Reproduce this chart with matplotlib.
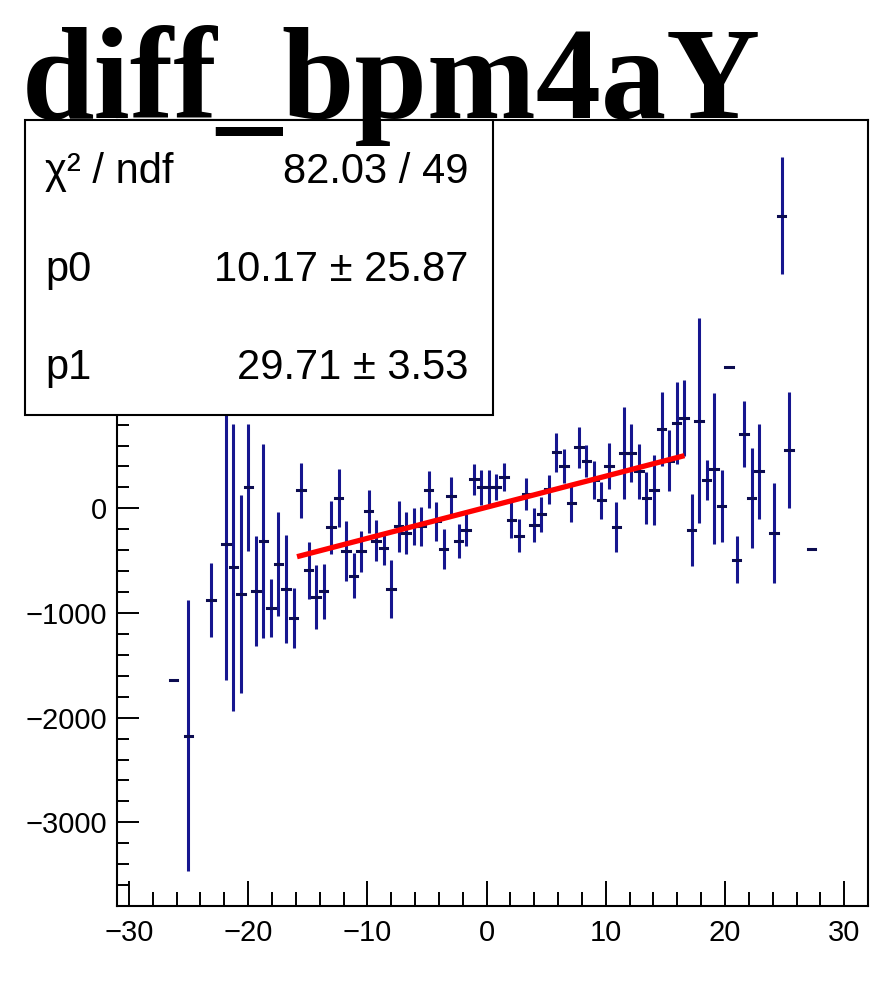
import numpy as np
import matplotlib
matplotlib.use("Agg")
import matplotlib.pyplot as plt
from matplotlib.patches import Rectangle

# profile bins (bin centres), mean values and errors
x_vals = [-26.275, -25.015, -23.125, -21.865, -21.235, -20.605, -19.975, -19.345,
          -18.715, -18.085, -17.455, -16.825, -16.195, -15.565, -14.935, -14.305,
          -13.675, -13.045, -12.415, -11.785, -11.155, -10.525, -9.895, -9.265,
          -8.635, -8.005, -7.375, -6.745, -6.115, -5.485, -4.855, -4.225,
          -3.595, -2.965, -2.335, -1.705, -1.075, -0.445, 0.185, 0.815,
          1.445, 2.075, 2.705, 3.335, 3.965, 4.595, 5.225, 5.855,
          6.485, 7.115, 7.745, 8.375, 9.005, 9.635, 10.265, 10.895,
          11.525, 12.155, 12.785, 13.415, 14.045, 14.675, 15.305, 15.935,
          16.565, 17.195, 17.825, 18.455, 19.085, 19.715, 20.345, 20.975,
          21.605, 22.235, 22.865, 24.125, 24.755, 25.385, 27.275]
y_vals = [-1637, -2172, -873, -338, -564, -819, 200, -793,
          -309, -952, -532, -768, -1048, 171, -593, -847,
          -793, -182, 98, -411, -643, -411, -30, -309,
          -383, -770, -173, -236, -173, -173, 178, -125,
          -389, 122, -312, -208, 276, 203, 203, 203,
          299, -109, -260, 135, -157, -58, 180, 535,
          405, 47, 583, 450, 270, 75, 400, -182,
          528, 528, 353, 98, 171, 760, 456, 815,
          862, -208, 837, 273, 380, 20, 1346, -491,
          709, 98, 353, -236, 2797, 553, -389]
y_errs = [0, 1295, 353, 1299, 1370, 950, 608, 525,
          926, 279, 494, 517, 290, 260, 271, 310,
          263, 255, 274, 286, 215, 199, 207, 199,
          155, 275, 242, 199, 178, 186, 177, 186,
          191, 178, 159, 151, 146, 167, 159, 126,
          138, 175, 162, 151, 162, 164, 135, 184,
          159, 181, 194, 151, 181, 181, 220, 240,
          442, 280, 265, 252, 335, 355, 290, 390,
          366, 342, 979, 191, 720, 345, 0, 226,
          313, 481, 454, 477, 557, 554, 0]

bin_width = 0.63
p0, p1 = 10.17, 29.71
fit_range = [-15.9, 16.6]

fig = plt.figure(figsize=(8.96, 9.83), dpi=100)
ax = fig.add_axes([0.1306, 0.0783, 0.8382, 0.7996])

blue = "#16168f"
ax.errorbar(x_vals, y_vals, yerr=y_errs, fmt="none", ecolor=blue,
            elinewidth=2.2, capsize=0, zorder=2)
hb = ax.errorbar(x_vals, y_vals, xerr=bin_width / 2, fmt="none", ecolor="#0c0c50",
                 elinewidth=2.2, capsize=0, zorder=3)
for lc in hb[2]:
    lc.set_capstyle("projecting")

xf = np.array(fit_range)
ax.plot(xf, p0 + p1 * xf, color="red", lw=3.8, zorder=4, solid_capstyle="butt")

ax.set_xlim(-31, 32)
ax.set_ylim(-3800, 3710)
ax.set_xticks(np.arange(-30, 31, 10))
ax.set_xticks(np.arange(-30, 32, 2), minor=True)
ax.set_yticks(np.arange(-3000, 1, 1000))
ax.set_yticks(np.arange(-3800, 3710, 200), minor=True)

for s in ax.spines.values():
    s.set_linewidth(1.5)
ax.tick_params(axis="x", which="major", direction="in", length=18, width=1.4,
               labelsize=21, pad=9)
ax.tick_params(axis="x", which="minor", direction="in", length=10, width=1.4)
ax.tick_params(axis="y", which="major", direction="in", length=16, width=1.4,
               labelsize=21, pad=7)
ax.tick_params(axis="y", which="minor", direction="in", length=8.5, width=1.4)
for lab in ax.get_xticklabels() + ax.get_yticklabels():
    lab.set_family("Liberation Sans")

# stats box
box = Rectangle((0.0279, 0.5778), 0.5223, 0.3001, transform=fig.transFigure,
                facecolor="white", edgecolor="black", lw=1.5, zorder=5)
fig.add_artist(box)
rows = [("χ² / ndf", "82.03 / 49"),
        ("p0", "10.17 ± 25.87"),
        ("p1", "29.71 ± 3.53")]
row_y = [172, 270, 368]
for (name, val), yp in zip(rows, row_y):
    fy = 1 - yp / 983
    fig.text(45 / 896, fy, name, ha="left", va="center", fontsize=30,
             family="Liberation Sans", zorder=6)
    fig.text(468 / 896, fy, val, ha="right", va="center", fontsize=30,
             family="Liberation Sans", zorder=6)

fig.text(22 / 896, 1 - 118 / 983, "diff_bpm4aY", ha="left", va="baseline",
         fontsize=94, fontweight="bold", family="Liberation Serif", zorder=7)

fig.savefig("out.png", dpi=100)
plt.close(fig)
